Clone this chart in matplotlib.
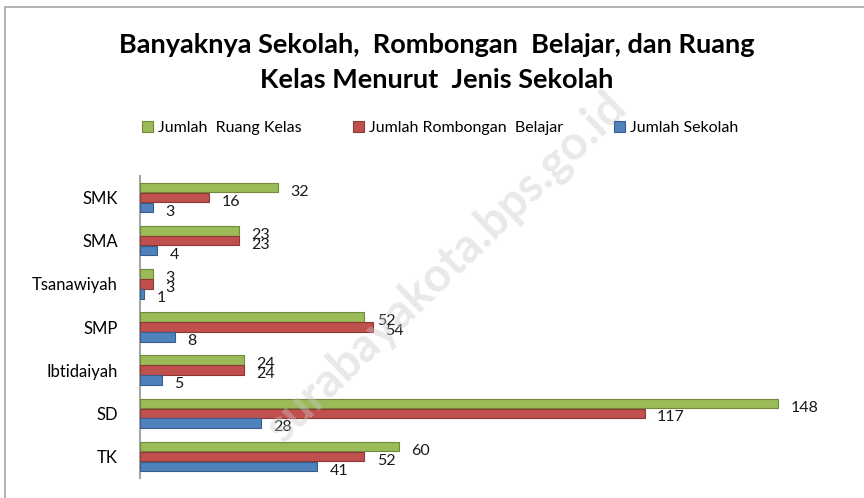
import matplotlib.pyplot as plt
from matplotlib.patches import Rectangle
import numpy as np

# data, bottom to top as in the chart
jenis = ['TK', 'SD', 'Ibtidaiyah', 'SMP', 'Tsanawiyah', 'SMA', 'SMK']
ruang_kelas = [60, 148, 24, 52, 3, 23, 32]
rombel = [52, 117, 24, 54, 3, 23, 16]
sekolah = [41, 28, 5, 8, 1, 4, 3]

series = [
    ('Jumlah  Ruang Kelas', ruang_kelas, '#9BBB59', '#71893F', 0.23),
    ('Jumlah Rombongan  Belajar', rombel, '#C0504D', '#8C3836', 0.0),
    ('Jumlah Sekolah', sekolah, '#4F81BD', '#385D8A', -0.23),
]

plt.rcParams['font.family'] = ['Lato', 'DejaVu Sans']

fig = plt.figure(figsize=(8.64, 4.98), dpi=100)
W, H = 864, 498

# outer chart border (cut off at right and bottom)
fig.patches.append(Rectangle((5 / W, -0.1), 1.2, 1 - 7 / H + 0.1, transform=fig.transFigure,
                             fill=False, edgecolor='#a6a6a6', linewidth=1.2))

ax = fig.add_axes([140 / W, 1 - 478 / H, (830 - 140) / W, (478 - 176) / H])

y = np.arange(len(jenis))
for name, vals, col, edge, off in series:
    bars = ax.barh(y + off, vals, height=0.22, color=col, edgecolor=edge,
                   linewidth=0.8, label=name, zorder=3)
    for b, v in zip(bars, vals):
        ax.annotate(str(v), (b.get_width(), b.get_y() + b.get_height() / 2),
                    xytext=(9, -3), textcoords='offset points',
                    ha='left', va='center', fontsize=11.5, color='#1a1a1a', zorder=4)

ax.set_xlim(0, 160)
ax.set_ylim(-0.5, 6.5)
ax.set_yticks(y)
ax.set_yticklabels(jenis, fontsize=12)
ax.set_xticks([])
ax.tick_params(axis='y', length=0, pad=16)
for s in ['top', 'right', 'bottom']:
    ax.spines[s].set_visible(False)
ax.spines['left'].set_color('#a6a6a6')
ax.spines['left'].set_linewidth(1.5)
ax.set_facecolor('none')

fig.text(437 / W, 1 - 45 / H, 'Banyaknya Sekolah,  Rombongan  Belajar, dan Ruang',
         ha='center', va='center', fontsize=19.5, fontweight='bold')
fig.text(437 / W, 1 - 80 / H, 'Kelas Menurut  Jenis Sekolah',
         ha='center', va='center', fontsize=19.5, fontweight='bold')

handles, labels = ax.get_legend_handles_labels()
fig.legend(handles, labels, loc='center', bbox_to_anchor=(440 / W, 1 - 128 / H), ncol=3,
           frameon=False, fontsize=11.5, handlelength=0.7, handleheight=0.7,
           handletextpad=0.3, columnspacing=3.2)

# faint watermark
fig.text(620 / W, 1 - 100 / H, 'surabayakota.bps.go.id', rotation=44,
         rotation_mode='anchor', ha='right', va='center', fontsize=34,
         fontweight='bold', color='#c8c8c8', alpha=0.4, zorder=5)

fig.savefig('out.png', dpi=100)
